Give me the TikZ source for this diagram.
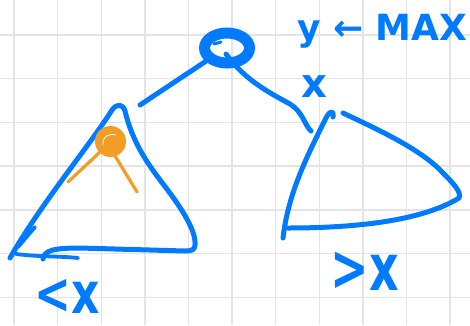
\documentclass[tikz,border=0pt]{standalone}
\usepackage{fontspec}
\setmainfont{DejaVu Sans}
\usetikzlibrary{shapes.geometric,calc}
\definecolor{ink}{RGB}{0,122,255}
\definecolor{orangeink}{RGB}{243,156,38}
\definecolor{gridgray}{RGB}{228,228,228}
\begin{document}
\begin{tikzpicture}[x=1pt,y=-1pt,
  pen/.style={draw=ink, line width=5pt, line cap=round, line join=round},
  thinpen/.style={pen, line width=3.8pt},
  orangepen/.style={draw=orangeink, line width=3.2pt, line cap=round},
  hand/.style={text=ink, inner sep=0pt, font=\bfseries\fontsize{36}{36}\selectfont},
]
\fill[white] (0,0) rectangle (470,325);
\useasboundingbox (0,0) rectangle (470,325);
% grid
\foreach \i in {0,...,10} \draw[gridgray, line width=1.4pt] ({14+43.6*\i},0) -- ({14+43.6*\i},325);
\foreach \j in {0,...,6} \draw[gridgray, line width=1.4pt] (0,{35+43.7*\j}) -- (470,{35+43.7*\j});

% root node
\node[ellipse, draw=ink, line width=11pt, minimum width=45pt, minimum height=30pt, inner sep=0pt] (top) at (227,48) {};
\draw[ink, line width=3pt, line cap=round] (214,44) -- (221,42);

% left edge
\coordinate (lt) at (140,105);
\draw[pen] (lt) -- (top.212);

% right edge
\coordinate (rt) at (311,131);
\draw[pen] ($(top.center)+(-1,6)$) .. controls (245,80) and (268,92) .. (290,104) .. controls (303,112) and (305,126) .. (rt);

% left triangle
\draw[pen] (10,258) .. controls (40,205) and (90,145) .. (112,110)
  .. controls (117,103) and (123,104) .. (125,111)
  .. controls (132,140) and (145,160) .. (160,180)
  .. controls (185,212) and (196,232) .. (195,245)
  .. controls (195,250) and (191,251) .. (185,251)
  -- (80,248) .. controls (55,248) and (44,250) .. (43,259);
\draw[thinpen] (16,254) .. controls (40,257) and (60,256) .. (78,258);
\draw[thinpen] (35,227) -- (18,247);

% orange child
\node[circle, fill=orangeink, minimum size=31pt, inner sep=0pt] (child) at (110.5,141.5) {};
\coordinate (ol) at (68,182);
\coordinate (or) at (137,192);
\draw[orangepen] (child.225) -- (ol);
\draw[orangepen] (child.-72) -- (or);
\draw[white, line width=0.8pt, line cap=round] (103,145) .. controls (102,137) and (108,133) .. (116,135);

% right triangle
\draw[pen] (333,117) .. controls (334,110) and (330,110) .. (326,118)
  .. controls (305,160) and (288,195) .. (283,238);
\draw[pen] (343,113) .. controls (370,126) and (420,148) .. (442,172)
  .. controls (452,182) and (462,192) .. (459,198)
  .. controls (420,222) and (350,228) .. (288,228);

% labels
\node[hand, anchor=base west] (maxlabel) at (297,40) {y ← MAX};
\node[hand, font=\bfseries\fontsize{40}{40}\selectfont] (xlabel) at (314,87) {x};
\node[hand, anchor=south, font=\bfseries\fontsize{44}{44}\selectfont] (lesslabel) at (67,314) {\scalebox{1}[1.3]{<x}};
\node[hand, anchor=south, font=\bfseries\fontsize{46}{46}\selectfont] (morelabel) at (365,291) {\scalebox{1}[1.4]{>x}};
\end{tikzpicture}
\end{document}
